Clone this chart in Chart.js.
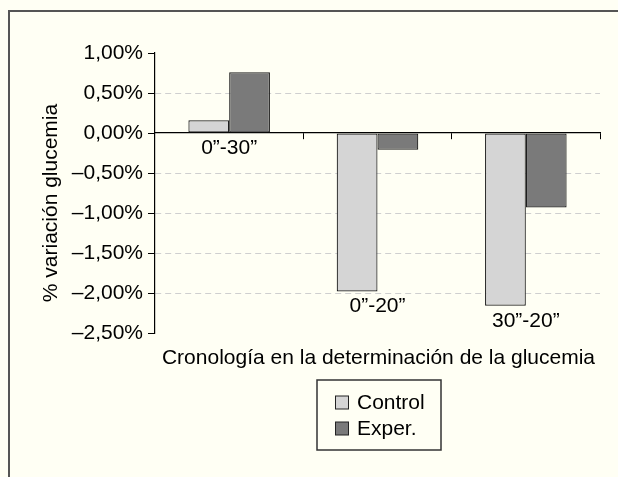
<!DOCTYPE html>
<html lang="es">
<head>
<meta charset="UTF-8">
<title>Variación glucemia</title>
<script src="https://cdn.jsdelivr.net/npm/chart.js"></script>
<style>
    body { margin: 0; background: #fffff4; }
    #wrap { width: 618px; height: 477px; }
</style>
</head>
<body>
<div id="wrap"><canvas id="chart"></canvas></div>
<script>
// datos
const categories = ['0\u201d-30\u201d', '0\u201d-20\u201d', '30\u201d-20\u201d'];
const seriesNames = ['Control', 'Exper.'];
const controlValues = [0.16, -1.98, -2.16];
const experValues = [0.76, -0.21, -0.93];
const yMin = -2.5, yMax = 1, yStep = 0.5;
const xTitle = 'Cronología en la determinación de la glucemia';
const yTitle = '% variación glucemia';

const FONT = "'Liberation Sans', Arial, sans-serif";
const SIZE = 21;
Chart.defaults.font.family = FONT;
Chart.defaults.font.size = SIZE;
Chart.defaults.color = '#000';

function fmt(v) {
    return (v < 0 ? '\u2013' : '') + Math.abs(v).toFixed(2).replace('.', ',') + '%';
}

// fondo y marco
const frame = {
    id: 'frame',
    beforeDraw(chart) {
        const ctx = chart.ctx;
        ctx.save();
        ctx.fillStyle = '#fffff4';
        ctx.fillRect(0, 0, chart.width, chart.height);
        ctx.strokeStyle = '#555';
        ctx.lineWidth = 2;
        ctx.beginPath();
        ctx.moveTo(9, chart.height);
        ctx.lineTo(9, 11);
        ctx.lineTo(chart.width, 11);
        ctx.stroke();
        ctx.restore();
    }
};

// etiquetas de categoría, títulos y leyenda
const extras = {
    id: 'extras',
    afterDraw(chart) {
        const ctx = chart.ctx;
        const x = chart.scales.x, y = chart.scales.y;
        ctx.save();
        ctx.fillStyle = '#000';
        ctx.font = SIZE + 'px ' + FONT;
        ctx.textAlign = 'center';
        ctx.textBaseline = 'alphabetic';
        categories.forEach((c, i) => {
            const low = Math.min(0, ...chart.data.datasets.map(d => d.data[i]));
            ctx.fillText(c, x.getPixelForValue(i), y.getPixelForValue(low) + 21);
        });

        const area = chart.chartArea;
        ctx.fillText(xTitle, (area.left + area.right) / 2 + 1, 364);

        ctx.save();
        ctx.translate(51, 203);
        ctx.rotate(-Math.PI / 2);
        ctx.textBaseline = 'middle';
        ctx.fillText(yTitle, 0, 0);
        ctx.restore();

        // leyenda
        ctx.strokeStyle = '#333';
        ctx.lineWidth = 1.5;
        ctx.strokeRect(317, 380, 124, 70);
        ctx.textAlign = 'left';
        chart.data.datasets.forEach((d, i) => {
            const base = 409 + i * 26;
            ctx.fillStyle = d.backgroundColor;
            ctx.fillRect(335.5, base - 13, 13, 13);
            ctx.strokeStyle = '#222';
            ctx.lineWidth = 1;
            ctx.strokeRect(335.5, base - 13, 13, 13);
            ctx.fillStyle = '#000';
            ctx.fillText(d.label, 357, base);
        });
        ctx.restore();
    }
};

new Chart(document.getElementById('chart'), {
    type: 'bar',
    data: {
        labels: categories,
        datasets: [
            { label: seriesNames[0], data: controlValues, backgroundColor: '#d5d5d5' },
            { label: seriesNames[1], data: experValues, backgroundColor: '#7a7a7a' }
        ]
    },
    plugins: [frame, extras],
    options: {
        responsive: true,
        maintainAspectRatio: false,
        animation: false,
        layout: { padding: { left: 0, top: 53, right: 18, bottom: 144 } },
        datasets: {
            bar: {
                categoryPercentage: 0.55,
                barPercentage: 1,
                borderColor: '#1e1e1e',
                borderWidth: 1.2,
                borderSkipped: false
            }
        },
        plugins: {
            legend: { display: false },
            tooltip: { enabled: false }
        },
        scales: {
            x: {
                position: { y: 0 },
                ticks: { display: false },
                grid: {
                    offset: true,
                    drawOnChartArea: false,
                    drawTicks: true,
                    tickLength: 6,
                    tickColor: ctx => (ctx.index === 0 ? 'transparent' : '#000')
                },
                border: { color: '#000', width: 1.2 }
            },
            y: {
                min: yMin,
                max: yMax,
                afterFit: s => { s.width = 155; },
                ticks: { stepSize: yStep, padding: 5, callback: v => fmt(v) },
                grid: {
                    color: ctx => {
                        const v = ctx.tick ? ctx.tick.value : null;
                        return (v === yMax || v === yMin || Math.abs(v) < 1e-9) ? 'transparent' : '#cfcfcf';
                    },
                    tickLength: 7,
                    tickColor: '#000'
                },
                border: { color: '#000', width: 1.2, dash: [6, 4] }
            }
        }
    }
});
</script>
</body>
</html>
